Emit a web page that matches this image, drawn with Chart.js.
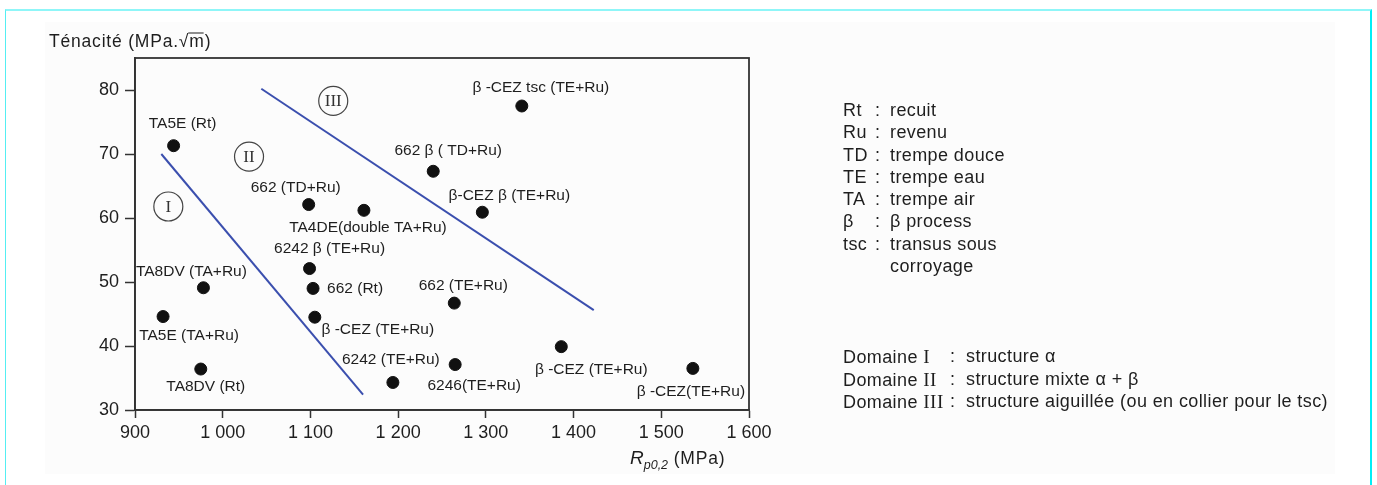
<!DOCTYPE html>
<html lang="fr">
<head>
<meta charset="utf-8">
<title>Ténacité en fonction de Rp0,2</title>
<script src="https://cdn.jsdelivr.net/npm/chart.js@4.4.1/dist/chart.umd.min.js"></script>
<style>
  html, body { margin: 0; padding: 0; background: #fff; }
  #page { position: relative; width: 1377px; height: 485px; overflow: hidden; }
  #frame {
    position: absolute; left: 5px; top: 9px; width: 1364px; height: 490px;
    border-left: 1px solid #55eef2; border-top: 2px solid #8ff6f8; border-right: 2px solid #00eef6;
  }
  #scan { position: absolute; left: 45px; top: 22px; width: 1290px; height: 452px; background: #fcfcfc; }
  canvas { position: absolute; left: 0; top: 0; }
  .legend {
    position: absolute; left: 843px; color: #1e1e1e;
    font: 18px "Liberation Sans", Arial, sans-serif; letter-spacing: 0.4px; white-space: nowrap;
  }
  .legend .row { display: flex; }
  .legend .k { display: inline-block; }
  .legend .c { display: inline-block; }
  #abbr { top: 99px; line-height: 22.3px; }
  #abbr .k { width: 32px; }
  #abbr .c { width: 15px; }
  #domains { top: 346px; line-height: 21.5px; }
  #domains .k { width: 107px; }
  #domains .c { width: 16px; }
  .roman { font-family: "Liberation Serif", "DejaVu Serif", serif; letter-spacing: 0.5px; font-size: 19px; }
</style>
</head>
<body>
<div id="page">
  <div id="scan"></div>
  <div id="frame"></div>
  <canvas id="chart" width="1377" height="485"></canvas>
  <div class="legend" id="abbr"></div>
  <div class="legend" id="domains"></div>
</div>
<script>
// Nuances de titane : limite d'élasticité Rp0,2 (MPa) et ténacité (MPa.√m)
const pointLabels = [
  "TA5E (Rt)", "662 \u03b2 ( TD+Ru)", "662 (TD+Ru)", "TA4DE(double TA+Ru)",
  "\u03b2 -CEZ tsc (TE+Ru)", "\u03b2-CEZ \u03b2 (TE+Ru)", "6242 \u03b2 (TE+Ru)", "TA8DV (TA+Ru)",
  "662 (Rt)", "TA5E (TA+Ru)", "\u03b2 -CEZ (TE+Ru)", "662 (TE+Ru)",
  "TA8DV (Rt)", "6242 (TE+Ru)", "6246(TE+Ru)", "\u03b2 -CEZ (TE+Ru)", "\u03b2 -CEZ(TE+Ru)"
]
const rp02 = [944, 1240, 1098, 1161, 1341, 1296, 1099, 978, 1103, 932, 1105, 1264, 975, 1194, 1265, 1386, 1536]
const tenacite = [71.3, 67.3, 62.1, 61.2, 77.5, 60.9, 52.1, 49.1, 49.0, 44.6, 44.5, 46.7, 36.4, 34.3, 37.1, 39.9, 36.5]

// frontières entre domaines
const limitIx = [930, 1160]
const limitIy = [70.0, 32.4]
const limitIIIx = [1044, 1423]
const limitIIIy = [80.2, 45.6]

// repères des domaines
const domainNames = ["I", "II", "III"]
const domainX = [938, 1030, 1126]
const domainY = [61.8, 69.6, 78.3]

// axes
const xMin = 900, xMax = 1600, xStep = 100
const yMin = 30, yMax = 85, yStep = 10

// légende
const abbrKeys = ["Rt", "Ru", "TD", "TE", "TA", "\u03b2", "tsc", ""]
const abbrText = ["recuit", "revenu", "trempe douce", "trempe eau", "trempe air", "\u03b2 process", "transus sous", "corroyage"]
const domainText = ["structure \u03b1", "structure mixte \u03b1 + \u03b2", "structure aiguill\u00e9e (ou en collier pour le tsc)"]

// décalage (px) de chaque étiquette par rapport à son point
const labelOffsets = [
  [9, -22], [15, -21], [-13, -17], [4, 17], [19, -18], [27, -17], [20, -20], [-12, -16],
  [42, 0], [26, 19], [63, 13], [9, -17], [5, 18], [-2, -23], [19, 21], [30, 23], [-2, 23]
]

const SANS = '"Liberation Sans", Arial, sans-serif'
const SERIF = '"Liberation Serif", "DejaVu Serif", serif'
const INK = "#1e1e1e"

const toXY = (xs, ys) => xs.map((x, i) => ({ x: x, y: ys[i] }))
const formatThousands = (v) => String(v).replace(/\B(?=(\d{3})+(?!\d))/g, " ")

const annotations = {
  id: "annotations",
  beforeDatasetsDraw(chart) {
    const { ctx, chartArea: a } = chart
    ctx.save()
    ctx.strokeStyle = "#333"
    ctx.lineWidth = 1.8
    ctx.strokeRect(a.left, a.top, a.right - a.left, a.bottom - a.top)
    ctx.restore()
  },
  afterDraw(chart) {
    const { ctx } = chart
    const xs = chart.scales.x
    const ys = chart.scales.y
    ctx.save()
    ctx.fillStyle = INK
    ctx.textBaseline = "middle"

    // étiquettes des points
    ctx.textAlign = "center"
    ctx.font = "15.5px " + SANS
    pointLabels.forEach((t, i) => {
      const px = xs.getPixelForValue(rp02[i]) + labelOffsets[i][0]
      const py = ys.getPixelForValue(tenacite[i]) + labelOffsets[i][1]
      ctx.fillText(t, px, py)
    })

    // chiffres romains dans les cercles
    ctx.font = "17px " + SERIF
    ctx.fillStyle = "#333"
    domainNames.forEach((t, i) => {
      ctx.fillText(t, xs.getPixelForValue(domainX[i]), ys.getPixelForValue(domainY[i]) + 1)
    })

    // titre de l'axe vertical
    ctx.fillStyle = INK
    ctx.textAlign = "left"
    ctx.font = "17.5px " + SANS
    ctx.letterSpacing = "0.8px"
    const yTitle = "T\u00e9nacit\u00e9 (MPa.\u221am)"
    const tx = 49, ty = 42
    ctx.fillText(yTitle, tx, ty)
    const pre = ctx.measureText("T\u00e9nacit\u00e9 (MPa.\u221a").width
    const mW = ctx.measureText("m").width
    ctx.strokeStyle = INK
    ctx.lineWidth = 1
    ctx.beginPath()
    ctx.moveTo(tx + pre - 1, ty - 9)
    ctx.lineTo(tx + pre + mW - 1, ty - 9)
    ctx.stroke()

    // titre de l'axe horizontal : R p0,2 (MPa)
    let x0 = 630
    const yb = 459
    ctx.letterSpacing = "0px"
    ctx.font = "italic 19px " + SANS
    ctx.fillText("R", x0, yb)
    x0 += ctx.measureText("R").width
    ctx.font = "italic 12.5px " + SANS
    ctx.fillText("p0,2", x0, yb + 7)
    x0 += ctx.measureText("p0,2").width
    ctx.font = "17.5px " + SANS
    ctx.letterSpacing = "0.8px"
    ctx.fillText(" (MPa)", x0, yb)
    ctx.restore()
  }
}

const chart = new Chart(document.getElementById("chart"), {
  type: "scatter",
  data: {
    datasets: [
      {
        label: "Nuances",
        data: toXY(rp02, tenacite),
        backgroundColor: "#111",
        borderColor: "#111",
        pointRadius: 6,
        pointHoverRadius: 6,
      },
      {
        label: "Limite I",
        data: toXY(limitIx, limitIy),
        showLine: true,
        borderColor: "#3b4fae",
        borderWidth: 2,
        pointRadius: 0,
      },
      {
        label: "Limite III",
        data: toXY(limitIIIx, limitIIIy),
        showLine: true,
        borderColor: "#3b4fae",
        borderWidth: 2,
        pointRadius: 0,
      },
      {
        label: "Domaines",
        data: toXY(domainX, domainY),
        backgroundColor: "rgba(255,255,255,0)",
        borderColor: "#444",
        borderWidth: 1.2,
        pointRadius: 14.5,
      },
    ],
  },
  options: {
    responsive: false,
    animation: false,
    events: [],
    layout: { padding: { top: 58, right: 628, bottom: 0, left: 0 } },
    plugins: {
      legend: { display: false },
      tooltip: { enabled: false },
    },
    scales: {
      x: {
        type: "linear",
        position: "bottom",
        min: xMin,
        max: xMax,
        afterFit: (scale) => { scale.height = 75 },
        border: { display: true, color: "#333", width: 1.8 },
        grid: { drawOnChartArea: false, drawTicks: true, tickLength: 8, tickColor: "#333", tickWidth: 1.5 },
        ticks: {
          stepSize: xStep,
          color: INK,
          padding: 4,
          maxRotation: 0,
          font: { family: SANS, size: 18 },
          callback: (v) => formatThousands(v),
        },
      },
      y: {
        type: "linear",
        min: yMin,
        max: yMax,
        afterFit: (scale) => { scale.width = 135 },
        border: { display: true, color: "#333", width: 1.8 },
        grid: { drawOnChartArea: false, drawTicks: true, tickLength: 10, tickColor: "#333", tickWidth: 1.5 },
        ticks: {
          stepSize: yStep,
          includeBounds: false,
          color: INK,
          padding: 6,
          font: { family: SANS, size: 18 },
        },
      },
    },
  },
  plugins: [annotations],
})

// légende (texte HTML)
const row = (k, c, t) => `<div class="row"><span class="k">${k}</span><span class="c">${c}</span><span>${t}</span></div>`
document.getElementById("abbr").innerHTML = abbrKeys
  .map((k, i) => row(k, abbrText[i] && k ? ":" : "", abbrText[i]))
  .join("")
document.getElementById("domains").innerHTML = domainNames
  .map((n, i) => row(`Domaine <span class="roman">${n}</span>`, ":", domainText[i]))
  .join("")
</script>
</body>
</html>
